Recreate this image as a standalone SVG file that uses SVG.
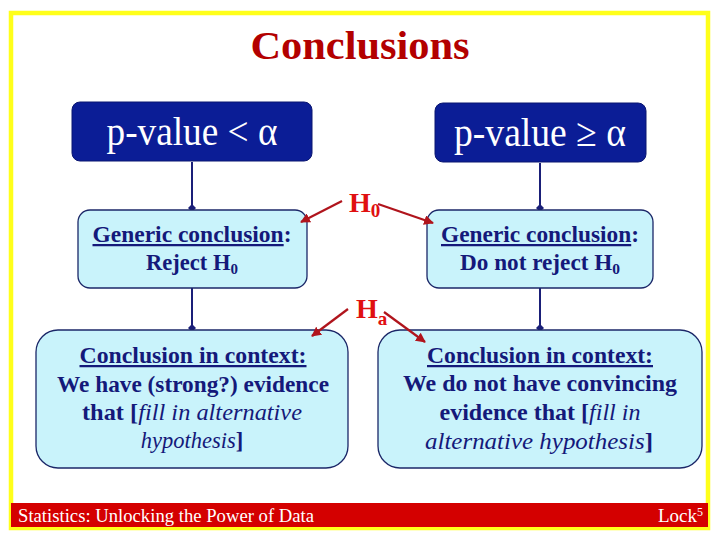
<svg xmlns="http://www.w3.org/2000/svg" width="720" height="540" viewBox="0 0 720 540">
<style>
text{font-family:"Liberation Serif","DejaVu Serif",serif}
.title{font-size:40px;font-weight:bold;fill:#b30000}
.cond{fill:#0b1d96;stroke:#0a1670;stroke-width:1}
.condt{font-size:40px;fill:#ffffff}
.box{fill:#c9f3fb;stroke:#1b2768;stroke-width:1.3}
.bt{font-size:22.5px;font-weight:bold;fill:#14197a}
.h{font-size:28px;font-weight:bold;fill:#e01010}
.conn line{stroke:#1a1f78;stroke-width:2}
.red line{stroke:#b0141c;stroke-width:2.2}
.foot{font-size:19px;fill:#ffffff}
</style>
<defs>
<marker id="dot" viewBox="0 0 10 10" refX="5" refY="5" markerWidth="4" markerHeight="4" orient="auto">
<path d="M0,5 L5,0 L10,5 L5,10 Z" fill="#1a1f78"/>
</marker>
<marker id="ra" viewBox="0 0 10 10" refX="9" refY="5" markerWidth="4.5" markerHeight="4.5" orient="auto">
<path d="M0,0 L10,5 L0,10 Z" fill="#b0141c"/>
</marker>
</defs>
<rect x="0" y="0" width="720" height="540" fill="#ffffff"/>
<rect x="11" y="13" width="697" height="515" fill="none" stroke="#ffff1a" stroke-width="4.5"/>
<text class="title" x="360" y="59" text-anchor="middle" textLength="219" lengthAdjust="spacingAndGlyphs">Conclusions</text>

<g class="conn">
<line x1="192" y1="162" x2="192" y2="208" marker-end="url(#dot)"/>
<line x1="540" y1="163" x2="540" y2="208" marker-end="url(#dot)"/>
<line x1="192" y1="288" x2="192" y2="328" marker-end="url(#dot)"/>
<line x1="540" y1="288" x2="540" y2="328" marker-end="url(#dot)"/>
</g>

<g id="lt">
<rect class="cond" x="72" y="102" width="240" height="59" rx="8"/>
<text class="condt" x="192" y="145" text-anchor="middle" textLength="171" lengthAdjust="spacingAndGlyphs">p-value &lt; α</text>
</g>
<g id="rt">
<rect class="cond" x="435" y="103" width="211" height="59" rx="8"/>
<text class="condt" x="540" y="146" text-anchor="middle" textLength="172" lengthAdjust="spacingAndGlyphs">p-value ≥ α</text>
</g>

<g id="lg">
<rect class="box" x="78" y="210" width="229" height="78" rx="12"/>
<text class="bt" x="192" y="242" text-anchor="middle" textLength="199" lengthAdjust="spacingAndGlyphs"><tspan text-decoration="underline">Generic conclusion</tspan>:</text>
<text class="bt" x="192" y="270" text-anchor="middle">Reject H<tspan font-size="15" dy="4">0</tspan></text>
</g>
<g id="rg">
<rect class="box" x="427" y="210" width="226" height="78" rx="12"/>
<text class="bt" x="540" y="242" text-anchor="middle" textLength="198" lengthAdjust="spacingAndGlyphs"><tspan text-decoration="underline">Generic conclusion</tspan>:</text>
<text class="bt" x="540" y="270" text-anchor="middle" textLength="160" lengthAdjust="spacingAndGlyphs">Do not reject H<tspan font-size="15" dy="4">0</tspan></text>
</g>

<g id="lb">
<rect class="box" x="36" y="330" width="312" height="138" rx="22"/>
<text class="bt" x="193" y="363" text-anchor="middle" textLength="227" lengthAdjust="spacingAndGlyphs" text-decoration="underline">Conclusion in context:</text>
<text class="bt" x="193" y="392" text-anchor="middle" textLength="272" lengthAdjust="spacingAndGlyphs">We have (strong?) evidence</text>
<text class="bt" x="192" y="420" text-anchor="middle" textLength="220" lengthAdjust="spacingAndGlyphs">that [<tspan font-style="italic" font-weight="normal">fill in alternative</tspan></text>
<text class="bt" x="192" y="448" text-anchor="middle"><tspan font-style="italic" font-weight="normal">hypothesis</tspan>]</text>
</g>
<g id="rb">
<rect class="box" x="378" y="330" width="324" height="138" rx="22"/>
<text class="bt" x="540" y="363" text-anchor="middle" textLength="226" lengthAdjust="spacingAndGlyphs" text-decoration="underline">Conclusion in context:</text>
<text class="bt" x="540" y="391" text-anchor="middle" textLength="274" lengthAdjust="spacingAndGlyphs">We do not have convincing</text>
<text class="bt" x="540" y="420" text-anchor="middle" textLength="201" lengthAdjust="spacingAndGlyphs">evidence that [<tspan font-style="italic" font-weight="normal">fill in</tspan></text>
<text class="bt" x="539" y="449" text-anchor="middle" textLength="228" lengthAdjust="spacingAndGlyphs"><tspan font-style="italic" font-weight="normal">alternative hypothesis</tspan>]</text>
</g>

<g class="red">
<line x1="342" y1="201" x2="301" y2="222" marker-end="url(#ra)"/>
<line x1="378" y1="204" x2="433" y2="223" marker-end="url(#ra)"/>
<line x1="348" y1="309" x2="312" y2="336" marker-end="url(#ra)"/>
<line x1="384" y1="312" x2="425" y2="342" marker-end="url(#ra)"/>
</g>
<g id="h0"><text class="h" x="349" y="212">H<tspan font-size="19" dy="5">0</tspan></text></g>
<g id="ha"><text class="h" x="356" y="318">H<tspan font-size="19" dy="7">a</tspan></text></g>

<g id="footer">
<rect x="11" y="503" width="697" height="24" fill="#d40000"/>
<text class="foot" x="18" y="522" textLength="296" lengthAdjust="spacingAndGlyphs">Statistics: Unlocking the Power of Data</text>
<text class="foot" x="703" y="522" text-anchor="end">Lock<tspan font-size="12" dy="-6">5</tspan></text>
</g>
</svg>
